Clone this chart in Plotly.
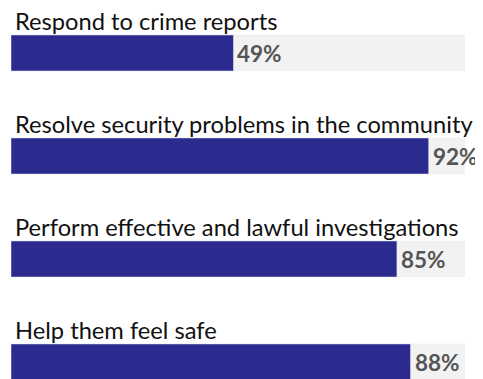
import plotly.graph_objects as go

# Data
labels = ['Respond to crime reports',
          'Resolve security problems in the community',
          'Perform effective and lawful investigations',
          'Help them feel safe']
values = [49, 92, 85, 88]
full = [100, 100, 100, 100]

pos = list(range(len(labels)))

fig = go.Figure()

# grey background track
fig.add_trace(go.Bar(
    x=full, y=pos, orientation='h', width=0.35,
    marker=dict(color='#f2f2f2'), hoverinfo='skip', showlegend=False
))
# value bars
fig.add_trace(go.Bar(
    x=values, y=pos, orientation='h', width=0.35,
    marker=dict(color='#2b2a8f'), showlegend=False
))

# category labels above each bar
for i, lab in enumerate(labels):
    fig.add_annotation(
        x=0, xref='x', y=i - 0.175, yref='y',
        text=lab, showarrow=False, xanchor='left', yanchor='bottom',
        xshift=2, yshift=-2,
        font=dict(family='Lato', size=23.7, color='#111111')
    )

# percentage labels right of the bar end
for i, v in enumerate(values):
    fig.add_annotation(
        x=v, xref='x', y=i, yref='y',
        text='<b>%d%%</b>' % v, showarrow=False, xanchor='left', yanchor='middle',
        xshift=2,
        font=dict(family='Lato', size=22.5, color='#555555')
    )

# page body adds an 8px offset, so the figure is sized 8px smaller
fig.update_layout(
    width=475, height=371,
    margin=dict(l=3, r=18, t=0, b=0),
    barmode='overlay',
    plot_bgcolor='white', paper_bgcolor='white',
    xaxis=dict(range=[0, 100], visible=False, fixedrange=True),
    yaxis=dict(range=[3.165, -0.437], visible=False, fixedrange=True),
)

fig.write_html("out.html")
